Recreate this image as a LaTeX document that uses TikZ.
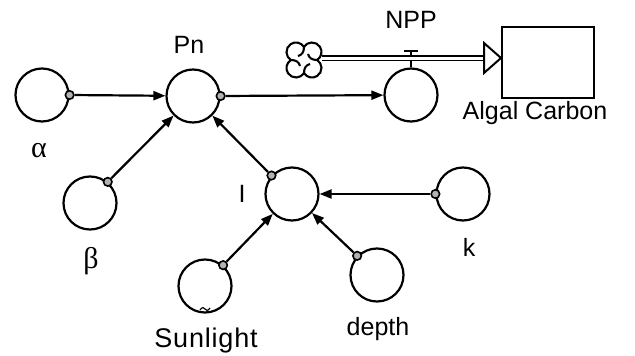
\documentclass[tikz,border=0pt]{standalone}
\usepackage{fontspec}
\setmainfont{Liberation Sans}
\newfontfamily\greekfont{Liberation Serif}
\usetikzlibrary{arrows.meta}
\begin{document}
\begin{tikzpicture}[x=1pt,y=-1pt,
 aux/.style={circle,draw,line width=2.2pt,minimum size=53pt,inner sep=0},
 src/.style={circle,draw,line width=1.6pt,minimum size=8.5pt,inner sep=0,fill=gray!60},
 link/.style={line width=2.2pt,-{Triangle[length=12pt,width=9pt]}},
 lbl/.style={font=\fontsize{25}{30}\selectfont,inner sep=0,anchor=base}]
\useasboundingbox (0,0) rectangle (635,356);
% variables
\node[aux] (alpha) at (42,95) {};
\node[aux] (pn) at (193,96) {};
\node[aux] (npp) at (411,95) {};
\node[aux] (beta) at (90,203) {};
\node[aux] (i) at (292,194) {};
\node[aux] (k) at (463,194) {};
\node[aux] (sun) at (205,286) {};
\node[aux] (depth) at (377,275) {};
% stock
\node[draw,line width=2.2pt,minimum width=92pt,minimum height=71pt,inner sep=0] (box) at (548,62.5) {};
% source cloud
\coordinate (cloud) at (304,60);
\begin{scope}[shift={(cloud)},yscale=-1,line width=2.1pt]
  \draw (13.1,0) arc[start angle=-57.4,end angle=147.4,radius=9.5]
        arc[start angle=32.6,end angle=237.4,radius=9.5]
        arc[start angle=122.6,end angle=327.4,radius=9.5]
        arc[start angle=212.6,end angle=417.4,radius=9.5] -- cycle;
  \foreach \r in {0,90,180,270}
    \draw[rotate=\r] (0,13.1) .. controls (0,8) and (-2,5) .. (-6,4);
\end{scope}
\coordinate (cloudeast) at (321.5,58);
% connector origins
\node[src] (sa) at (alpha.east) {};
\node[src] (spn) at (pn.east) {};
\node[src] (sb) at (beta.50) {};
\node[src] (si) at (i.138) {};
\node[src] (sk) at (k.west) {};
\node[src] (ss) at (sun.49) {};
\node[src] (sd) at (depth.136) {};
% connectors
\draw[link] (sa) -- (pn);
\draw[link] (spn) -- (npp);
\draw[link] (sb) -- (pn);
\draw[link] (si) -- (pn);
\draw[link] (sk) -- (i);
\draw[link] (ss) -- (i);
\draw[link] (sd) -- (i);
% valve
\coordinate (vtop) at (411,51);
\draw[line width=2pt] (npp.north) -- (vtop);
\draw[line width=2.4pt] (404,51) -- (418,51);
% flow pipe
\coordinate (tip) at (501,58);
\coordinate (tipbase) at (484,58);
\draw[line width=1.8pt,double=white,double distance=3pt] (cloudeast) -- (tipbase);
\draw[line width=2pt,fill=white,line join=miter] (484,43) -- (tip) -- (484,73) -- cycle;
% tilde mark
\draw[line width=1.2pt] (200,310) .. controls (202,307) and (204,307) .. (205,309) .. controls (206,311) and (208,311) .. (210,308);
% labels
\node[lbl] (lpn) at (189,53) {Pn};
\node[lbl] (lnpp) at (411,28) {NPP};
\node[lbl] (lalg) at (535,119) {Algal Carbon};
\node[lbl,font=\fontsize{30}{34}\selectfont\greekfont] (la) at (39,157) {α};
\node[lbl,font=\fontsize{30}{34}\selectfont\greekfont] (lb) at (91,268) {β};
\node[lbl] (li) at (242,202) {I};
\node[lbl] (lk) at (469,256) {k};
\node[lbl,font=\fontsize{27}{32}\selectfont] (ls) at (206,347) {\addfontfeatures{LetterSpace=3}Sunlight};
\node[lbl] (ld) at (378,335) {depth};
\end{tikzpicture}
\end{document}
